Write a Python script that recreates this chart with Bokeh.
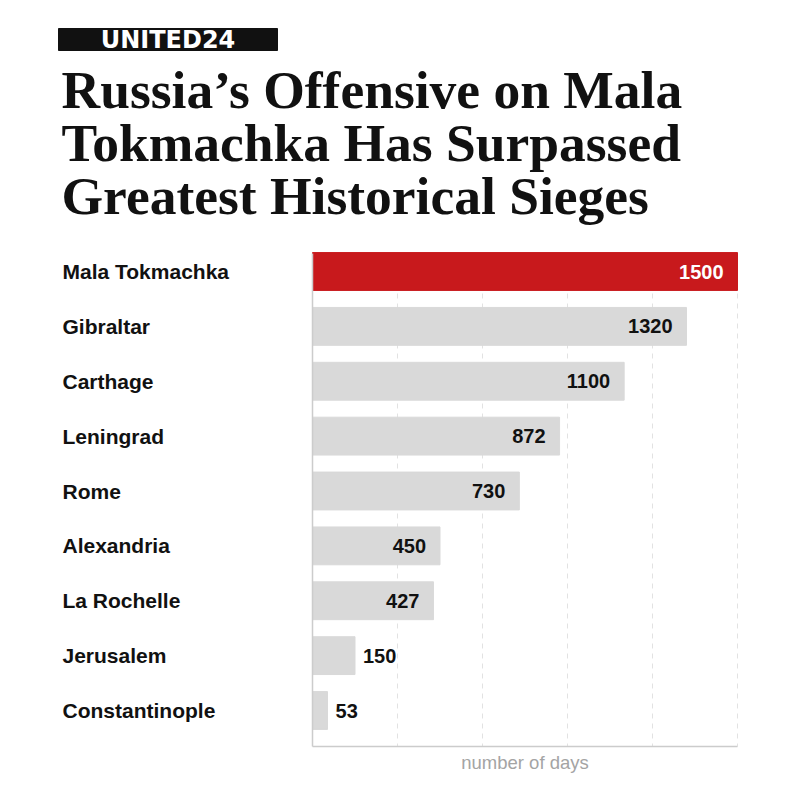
from bokeh.plotting import figure
from bokeh.models import Range1d, Label, ColumnDataSource
from bokeh.embed import file_html
from bokeh.resources import INLINE

# ---- data ----
categories = ["Mala Tokmachka", "Gibraltar", "Carthage", "Leningrad", "Rome",
              "Alexandria", "La Rochelle", "Jerusalem", "Constantinople"]
days = [1500, 1320, 1100, 872, 730, 450, 427, 150, 53]
grid_ticks = [300, 600, 900, 1200, 1500]
title_lines = ["Russia\u2019s Offensive on Mala",
               "Tokmachka Has Surpassed",
               "Greatest Historical Sieges"]
logo_text = "UNITED24"
axis_title = "number of days"

RED = "#c8191c"
GRAY = "#d9d9d9"

W, H = 798, 796
FL, FR, FT, FB = 312, 737, 253, 746   # chart area edges in pixels
XMAX = 1500
ROW = 54.875                           # px per row
ROW0 = 271                             # px centre of first row
BAR_H = 0.69

dpx = XMAX / (FR - FL)  # days per pixel


def px_x(sx):
    return (sx - FL) * dpx


def px_y(sy):
    return (sy - ROW0) / ROW


p = figure(width=W, height=H, output_backend="svg", toolbar_location=None,
           x_range=Range1d(px_x(0), px_x(W)), y_range=Range1d(px_y(H), px_y(0)),
           min_border=0)
p.outline_line_color = None
p.background_fill_color = "white"
p.border_fill_color = "white"
p.axis.visible = False
p.grid.visible = False

y_top = px_y(FT)
y_bot = px_y(FB)

# dashed grid lines
p.segment(x0=grid_ticks, x1=grid_ticks, y0=[y_top] * len(grid_ticks),
          y1=[y_bot] * len(grid_ticks), line_color="#e2e2e2", line_width=1,
          line_dash="5 5")

idx = list(range(len(categories)))
colors = [RED if i == 0 else GRAY for i in idx]
src = ColumnDataSource(dict(y=idx, right=days, color=colors, name=categories))
p.hbar(y="y", left=0, right="right", height=BAR_H, color="color", source=src)

# axis lines
p.segment(x0=[0, 0], x1=[0, XMAX], y0=[y_top, y_bot], y1=[y_bot, y_bot],
          line_color="#cccccc", line_width=1.5)

# axis title
p.add_layout(Label(x=XMAX / 2, y=px_y(762), text=axis_title, text_align="center",
                   text_baseline="middle", text_font="Liberation Sans",
                   text_font_size="18.5px", text_color="#a4a4a4"))

# category labels & values
for i, (cat, d) in enumerate(zip(categories, days)):
    p.add_layout(Label(x=px_x(62), y=i, text=cat, text_align="left",
                       text_baseline="middle", text_font="Liberation Sans",
                       text_font_style="bold", text_font_size="21px",
                       text_color="#111111"))
    inside = d >= 300
    p.add_layout(Label(x=d, y=i, text=str(d),
                       x_offset=-14 if inside else 8,
                       text_align="right" if inside else "left",
                       text_baseline="middle", text_font="Liberation Sans",
                       text_font_style="bold", text_font_size="20px",
                       text_color="white" if i == 0 else "#111111"))

# title
for line, sy in zip(title_lines, [89, 142, 195]):
    p.add_layout(Label(x=px_x(61), y=px_y(sy), text=line, text_align="left",
                       text_baseline="alphabetic", text_font="Liberation Serif",
                       text_font_style="bold", text_font_size="53.5px",
                       text_color="#111111"))

# logo
p.quad(left=[px_x(58)], right=[px_x(277)], top=[px_y(28)], bottom=[px_y(50)],
       color="#111111")
p.add_layout(Label(x=px_x(167.5), y=px_y(39.5), text=logo_text, text_align="center",
                   text_baseline="middle", text_font="DejaVu Sans",
                   text_font_style="bold", text_font_size="24px",
                   text_color="white"))

open("out.html", "w").write(file_html(p, INLINE))
